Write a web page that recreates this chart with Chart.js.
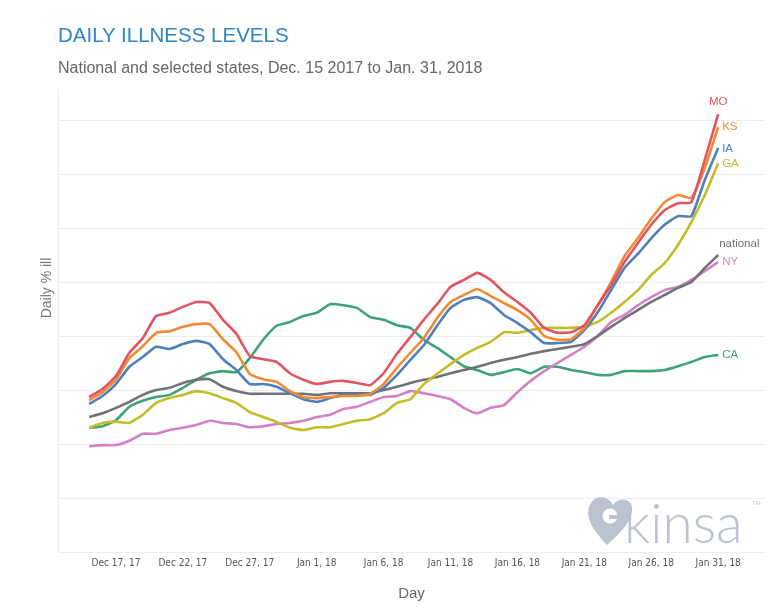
<!DOCTYPE html>
<html>
<head>
<meta charset="utf-8">
<title>Daily illness levels</title>
<script src="https://cdn.jsdelivr.net/npm/chart.js@4.4.1/dist/chart.umd.min.js"></script>
<style>
    html, body { margin: 0; padding: 0; background: #fff; }
    .wrap { position: relative; width: 784px; height: 609px; overflow: hidden; }
    .title { position: absolute; left: 58px; top: 23px; font: 20.5px "Liberation Sans", Arial, sans-serif; color: #2f86c6; white-space: nowrap; }
    .subtitle { position: absolute; left: 58px; top: 59px; font: 16px "Liberation Sans", Arial, sans-serif; color: #666; white-space: nowrap; }
    #chart { position: absolute; left: 0; top: 0; }
</style>
</head>
<body>
<div class="wrap">
    <canvas id="chart" width="784" height="609"></canvas>
    <div class="title">DAILY ILLNESS LEVELS</div>
    <div class="subtitle">National and selected states, Dec. 15 2017 to Jan. 31, 2018</div>
</div>
<script>
(function () {
    "use strict";

    // Data: one value per day, Dec 15 2017 (day 0) to Jan 31 2018 (day 47)
    var tickDays = [2, 7, 12, 17, 22, 27, 32, 37, 42, 47];
    var tickLabels = ['Dec 17, 17', 'Dec 22, 17', 'Dec 27, 17', 'Jan 1, 18', 'Jan 6, 18',
        'Jan 11, 18', 'Jan 16, 18', 'Jan 21, 18', 'Jan 26, 18', 'Jan 31, 18'];

    var mo = [2.87, 3.02, 3.26, 3.69, 3.96, 4.37, 4.43, 4.54, 4.63, 4.61,
        4.30, 4.04, 3.63, 3.57, 3.52, 3.31, 3.19, 3.11, 3.15, 3.17,
        3.13, 3.09, 3.31, 3.67, 3.98, 4.30, 4.59, 4.91, 5.04, 5.17,
        5.04, 4.81, 4.63, 4.43, 4.15, 4.06, 4.07, 4.20, 4.57, 4.94,
        5.37, 5.72, 6.06, 6.33, 6.46, 6.48, 7.26, 8.11];
    var ks = [2.81, 2.96, 3.19, 3.59, 3.81, 4.06, 4.09, 4.17, 4.22, 4.22,
        3.94, 3.70, 3.30, 3.20, 3.15, 2.98, 2.87, 2.85, 2.87, 2.89,
        2.89, 2.93, 3.11, 3.41, 3.69, 3.96, 4.33, 4.63, 4.76, 4.87,
        4.74, 4.61, 4.48, 4.30, 4.00, 3.93, 3.94, 4.15, 4.57, 5.00,
        5.48, 5.81, 6.17, 6.48, 6.61, 6.56, 7.11, 7.87];
    var ia = [2.74, 2.89, 3.11, 3.43, 3.61, 3.80, 3.76, 3.85, 3.91, 3.85,
        3.57, 3.37, 3.11, 3.11, 3.06, 2.94, 2.83, 2.78, 2.85, 2.91,
        2.91, 2.91, 3.04, 3.28, 3.56, 3.83, 4.19, 4.52, 4.67, 4.72,
        4.61, 4.39, 4.24, 4.07, 3.87, 3.87, 3.89, 4.11, 4.44, 4.85,
        5.26, 5.52, 5.81, 6.06, 6.22, 6.22, 6.89, 7.48];
    var ga = [2.30, 2.39, 2.41, 2.39, 2.54, 2.76, 2.85, 2.91, 2.98, 2.94,
        2.85, 2.76, 2.59, 2.50, 2.41, 2.30, 2.26, 2.31, 2.31, 2.37,
        2.43, 2.46, 2.57, 2.76, 2.83, 3.11, 3.30, 3.48, 3.65, 3.78,
        3.89, 4.07, 4.06, 4.11, 4.15, 4.15, 4.15, 4.17, 4.26, 4.43,
        4.63, 4.85, 5.13, 5.35, 5.69, 6.11, 6.61, 7.20];
    var national = [2.50, 2.57, 2.67, 2.78, 2.91, 3.00, 3.04, 3.13, 3.19, 3.20,
        3.06, 2.98, 2.93, 2.93, 2.93, 2.93, 2.93, 2.91, 2.94, 2.94,
        2.94, 2.94, 3.00, 3.06, 3.13, 3.19, 3.24, 3.31, 3.37, 3.43,
        3.50, 3.56, 3.61, 3.67, 3.72, 3.76, 3.80, 3.85, 4.00, 4.17,
        4.33, 4.48, 4.63, 4.76, 4.89, 5.00, 5.26, 5.50];
    var ny = [1.96, 1.98, 1.98, 2.06, 2.19, 2.19, 2.26, 2.30, 2.35, 2.43,
        2.39, 2.37, 2.31, 2.33, 2.37, 2.39, 2.43, 2.50, 2.54, 2.65,
        2.69, 2.78, 2.87, 2.89, 2.98, 2.94, 2.89, 2.83, 2.67, 2.57,
        2.67, 2.72, 2.96, 3.17, 3.35, 3.50, 3.65, 3.80, 4.00, 4.26,
        4.39, 4.57, 4.72, 4.85, 4.91, 5.04, 5.20, 5.37];
    var ca = [2.30, 2.33, 2.44, 2.69, 2.80, 2.87, 2.91, 3.04, 3.19, 3.31,
        3.35, 3.33, 3.59, 3.93, 4.19, 4.26, 4.37, 4.43, 4.59, 4.57,
        4.52, 4.35, 4.30, 4.20, 4.15, 3.93, 3.78, 3.61, 3.44, 3.37,
        3.28, 3.33, 3.39, 3.31, 3.43, 3.43, 3.37, 3.33, 3.28, 3.28,
        3.35, 3.35, 3.35, 3.37, 3.44, 3.52, 3.61, 3.65];

    var seriesNames = ['MO', 'KS', 'IA', 'GA', 'national', 'NY', 'CA'];
    var seriesValues = [mo, ks, ia, ga, national, ny, ca];
    var seriesColors = ['#e15563', '#f08a33', '#4f7fbd', '#c2bd2a', '#6f7278', '#d67fc8', '#3fa37a'];

    // end label placement, relative to each line's last point
    var labelOffsets = [
        { dx: 0, dy: -12, align: 'center' },
        { dx: 4, dy: 0, align: 'left' },
        { dx: 4, dy: 1, align: 'left' },
        { dx: 4, dy: 1, align: 'left' },
        { dx: 1, dy: -11, align: 'left' },
        { dx: 4, dy: 0, align: 'left' },
        { dx: 4, dy: 0, align: 'left' }
    ];

    var toPoints = function (values) {
        return values.map(function (v, i) {
            return { x: i, y: v };
        });
    };

    var datasets = seriesNames.map(function (name, i) {
        return {
            label: name,
            data: toPoints(seriesValues[i]),
            borderColor: seriesColors[i],
            backgroundColor: seriesColors[i],
            borderWidth: 2.6,
            pointRadius: 0,
            tension: 0.15,
            fill: false
        };
    });

    // Line end labels
    var endLabels = {
        id: 'endLabels',
        afterDatasetsDraw: function (chart) {
            var ctx = chart.ctx;
            ctx.save();
            ctx.font = '11.5px "Liberation Sans", Arial, sans-serif';
            ctx.textBaseline = 'middle';
            chart.data.datasets.forEach(function (ds, i) {
                var meta = chart.getDatasetMeta(i);
                var last = meta.data[meta.data.length - 1];
                var off = labelOffsets[i];
                ctx.fillStyle = ds.borderColor;
                ctx.textAlign = off.align;
                ctx.fillText(ds.label, last.x + off.dx, last.y + off.dy);
            });
            ctx.restore();
        }
    };

    // Y title and watermark
    var extras = {
        id: 'extras',
        beforeDatasetsDraw: function (chart) {
            var ctx = chart.ctx;
            var area = chart.chartArea;
            ctx.save();

            // kinsa watermark
            var wx = area.right - 177;
            var wy = area.bottom - 7;
            ctx.fillStyle = '#bcc3d0';
            ctx.beginPath();
            ctx.moveTo(wx + 19, wy);
            ctx.bezierCurveTo(wx + 8, wy - 12, wx - 3, wy - 25, wx + 1, wy - 38);
            ctx.bezierCurveTo(wx + 5, wy - 50, wx + 19, wy - 51, wx + 25, wy - 40);
            ctx.bezierCurveTo(wx + 32, wy - 50, wx + 46, wy - 46, wx + 44, wy - 33);
            ctx.bezierCurveTo(wx + 42, wy - 21, wx + 30, wy - 10, wx + 19, wy);
            ctx.fill();
            ctx.fillStyle = '#ffffff';
            ctx.beginPath();
            ctx.arc(wx + 22, wy - 29, 7.5, 0, Math.PI * 2);
            ctx.fill();
            ctx.fillStyle = '#bcc3d0';
            ctx.fillRect(wx + 21, wy - 30, 11, 4);

            ctx.font = '300 55px Lato, "Open Sans", sans-serif';
            ctx.textAlign = 'left';
            ctx.textBaseline = 'alphabetic';
            ctx.fillText('kinsa', wx + 36, wy - 2);
            ctx.font = '6px "Liberation Sans", sans-serif';
            ctx.fillText('TM', wx + 164, wy - 40);
            ctx.restore();
        },
        afterDraw: function (chart) {
            var ctx = chart.ctx;
            ctx.save();
            ctx.translate(47, 288);
            ctx.rotate(-Math.PI / 2);
            ctx.font = '14px "Liberation Sans", Arial, sans-serif';
            ctx.fillStyle = '#777';
            ctx.textAlign = 'center';
            ctx.textBaseline = 'middle';
            ctx.fillText('Daily % ill', 0, 0);
            ctx.restore();
        }
    };

    var ctx = document.getElementById('chart').getContext('2d');
    var illnessChart = new Chart(ctx, {
        type: 'line',
        data: { datasets: datasets },
        options: {
            responsive: false,
            animation: false,
            layout: {
                padding: { top: 90, right: 19, bottom: 6, left: 58 }
            },
            plugins: {
                legend: { display: false },
                tooltip: { enabled: false }
            },
            scales: {
                x: {
                    type: 'linear',
                    min: -2.33,
                    max: 50.5,
                    afterBuildTicks: function (scale) {
                        scale.ticks = tickDays.map(function (d) {
                            return { value: d };
                        });
                    },
                    ticks: {
                        autoSkip: false,
                        maxRotation: 0,
                        padding: 5,
                        color: '#555',
                        font: { family: '"Liberation Sans Narrow", "DejaVu Sans Condensed", sans-serif', size: 10 },
                        callback: function (value) {
                            var k = tickDays.indexOf(value);
                            return k >= 0 ? tickLabels[k] : '';
                        }
                    },
                    grid: { display: false, drawTicks: false },
                    border: { display: true, color: '#ececec' },
                    title: {
                        display: true,
                        text: 'Day',
                        color: '#666',
                        font: { family: '"Liberation Sans", Arial, sans-serif', size: 15 },
                        padding: { top: 11, bottom: 0 }
                    }
                },
                y: {
                    min: 0,
                    max: 8.556,
                    ticks: { display: false, stepSize: 1, includeBounds: false },
                    grid: { color: '#ececec', lineWidth: 1, drawTicks: false },
                    border: { display: true, color: '#ececec' }
                }
            }
        },
        plugins: [endLabels, extras]
    });
})();
</script>
</body>
</html>
